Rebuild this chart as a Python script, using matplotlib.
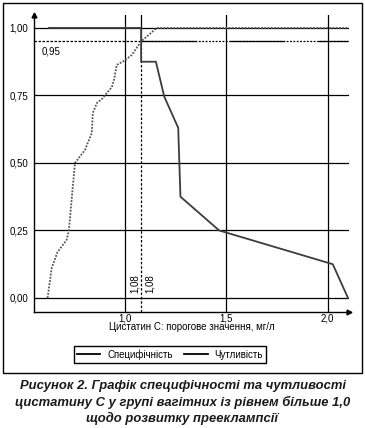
import matplotlib
matplotlib.use("Agg")
import matplotlib.pyplot as plt
from matplotlib.lines import Line2D
from matplotlib.patches import Rectangle

plt.rcParams['font.family'] = ['Liberation Sans', 'DejaVu Sans']

# Специфічність (суцільна лінія)
spec_x = [0.626, 1.08, 1.08, 1.153, 1.194, 1.263, 1.274, 1.465, 2.025, 2.10]
spec_y = [1.00, 1.00, 0.875, 0.875, 0.746, 0.63, 0.375, 0.25, 0.125, 0.00]

# Чутливість (пунктир)
sens_x = [0.619, 0.639, 0.668, 0.713, 0.724, 0.737, 0.754, 0.803, 0.837, 0.842,
          0.862, 0.887, 0.911, 0.936, 0.946, 0.96, 1.00, 1.034, 1.08, 1.157, 2.10]
sens_y = [0.00, 0.11, 0.17, 0.215, 0.25, 0.36, 0.50, 0.548, 0.611, 0.685,
          0.722, 0.737, 0.759, 0.781, 0.807, 0.863, 0.88, 0.90, 0.95, 1.00, 1.00]

cutoff = 1.08
level = 0.95
y_ticks = [0.0, 0.25, 0.5, 0.75, 1.0]
y_labels = ['0,00', '0,25', '0,50', '0,75', '1,00']
x_ticks = [1.0, 1.5, 2.0]
x_labels = ['1,0', '1,5', '2,0']

fig = plt.figure(figsize=(3.65, 4.28), dpi=100)
ax = fig.add_axes([34 / 365, 116 / 428, 315 / 365, 297 / 428])
ax.set_xlim(0.552, 2.105)
ax.set_ylim(-0.052, 1.048)

for s in ['top', 'right']:
    ax.spines[s].set_visible(False)
for s in ['left', 'bottom']:
    ax.spines[s].set_linewidth(1.0)

# сітка
for y in y_ticks:
    ax.axhline(y, color='black', lw=0.9, zorder=1)
for x in x_ticks:
    ax.axvline(x, color='black', lw=0.9, zorder=1)

# порогове значення 1,08 / 0,95
ax.plot([cutoff, cutoff], [level, 1.048], color='black', lw=0.9, zorder=1)
ax.plot([cutoff, cutoff], [-0.052, level], color='black', lw=0.9, ls=(0, (2, 1.5)), zorder=1)
ax.plot([0.552, cutoff], [level, level], color='black', lw=0.9, ls=(0, (2, 1.2)), zorder=1)
ax.plot([cutoff, 2.10], [level, level], color='black', lw=0.9, ls=(0, (1.5, 1.2)), zorder=1)
ax.plot([cutoff, 2.10], [level, level], color='black', lw=0.9, ls=(0, (44, 27)), zorder=1)

ax.plot(spec_x, spec_y, color='#3c3c3c', lw=1.3, zorder=3)
ax.plot(sens_x, sens_y, color='#555555', lw=1.3, ls=(0, (1, 0.8)), zorder=3)

ax.text(0.591, 0.912, '0,95', fontsize=7, ha='left', va='center')
ax.text(1.047, 0.02, '1,08', fontsize=7, rotation=90, ha='center', va='bottom')
ax.text(1.123, 0.02, '1,08', fontsize=7, rotation=90, ha='center', va='bottom')

ax.set_yticks(y_ticks)
ax.set_yticklabels(y_labels)
ax.set_xticks(x_ticks)
ax.set_xticklabels(x_labels)
ax.tick_params(axis='both', length=0, labelsize=7)
ax.tick_params(axis='y', pad=4)
ax.tick_params(axis='x', pad=1)
ax.set_xlabel('Цистатин С: порогове значення, мг/л', fontsize=7, labelpad=-1)

# стрілки осей
ax.plot(1, 0, '>k', ms=3.5, transform=ax.transAxes, clip_on=False)
ax.plot(0, 1, '^k', ms=3.5, transform=ax.transAxes, clip_on=False)

handles = [Line2D([], [], color='black', lw=1.3), Line2D([], [], color='black', lw=1.3)]
leg = fig.legend(handles, ['Специфічність', 'Чутливість'], ncol=2, fontsize=7,
                 loc='center', bbox_to_anchor=(170 / 365, 1 - 354.5 / 428),
                 frameon=True, fancybox=False, edgecolor='black', framealpha=1,
                 handlelength=2.4, handletextpad=0.7, columnspacing=1.2,
                 borderpad=0.35)
leg.get_frame().set_linewidth(1.0)

fig.patches.append(Rectangle((3 / 365, 1 - 373 / 428), 359 / 365, 370 / 428,
                             transform=fig.transFigure, fill=False,
                             edgecolor='black', lw=1.0))

cap = ['Рисунок 2. Графік специфічності та чутливості',
       'цистатину С у групі вагітних із рівнем більше 1,0',
       'щодо розвитку прееклампсії']
for i, line in enumerate(cap):
    fig.text(0.5, 1 - (386 + 16 * i) / 428, line, ha='center', va='center',
             fontsize=9.4, fontweight='bold', fontstyle='italic', color='#1a1a1a')

fig.savefig('out.png', dpi=100)
